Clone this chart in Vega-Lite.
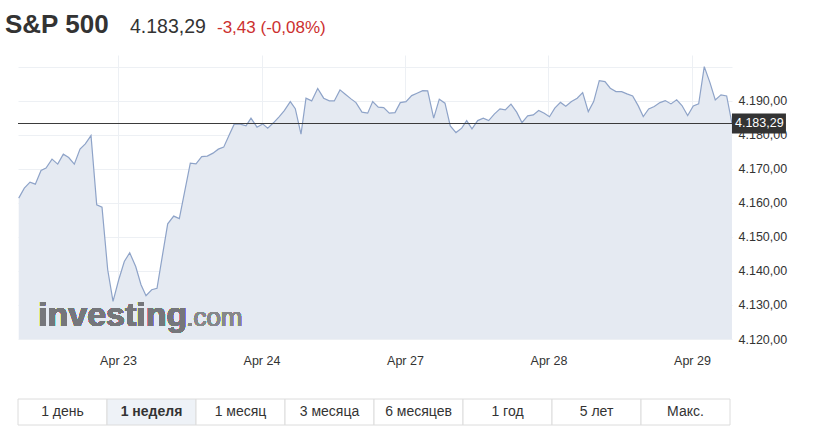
{
  "$schema": "https://vega.github.io/schema/vega-lite/v6.json",
  "padding": {"left": 5, "top": 11, "right": 5, "bottom": 4},
  "background": "#ffffff",
  "config": {
    "font": "Liberation Sans",
    "view": {"stroke": null},
    "locale": {"number": {"decimal": ",", "thousands": ".", "grouping": [3], "currency": ["", ""]}}
  },
  "datasets": {
    "header": [
      {"part": "name", "label": "S&P 500"},
      {"part": "price", "label": "4.183,29"},
      {"part": "change", "label": "-3,43 (-0,08%)"}
    ],
    "buttons": [
      {"label": "1 день"}, {"label": "1 неделя"}, {"label": "1 месяц"}, {"label": "3 месяца"},
      {"label": "6 месяцев"}, {"label": "1 год"}, {"label": "5 лет"}, {"label": "Макс."}
    ],
    "spx": [
      {"t":0.3080,"v":4161.37},{"t":0.3470,"v":4164.31},{"t":0.3868,"v":4166.07},{"t":0.4237,"v":4165.48},
      {"t":0.4634,"v":4169.47},{"t":0.4983,"v":4170.18},{"t":0.5401,"v":4172.82},{"t":0.5798,"v":4171.35},
      {"t":0.6188,"v":4174.28},{"t":0.6564,"v":4173.29},{"t":0.6955,"v":4171.35},{"t":0.7352,"v":4175.75},
      {"t":0.7721,"v":4177.31},{"t":0.8118,"v":4179.74},{"t":0.8516,"v":4159.41},{"t":0.8885,"v":4158.73},
      {"t":0.9282,"v":4140.33},{"t":0.9652,"v":4131.03},{"t":1.0049,"v":4137.40},{"t":1.0439,"v":4142.77},
      {"t":1.0815,"v":4145.32},{"t":1.1233,"v":4141.30},{"t":1.1603,"v":4135.93},{"t":1.1951,"v":4132.71},
      {"t":1.2348,"v":4134.47},{"t":1.2718,"v":4134.91},{"t":1.3094,"v":4144.47},{"t":1.3463,"v":4153.83},
      {"t":1.3882,"v":4156.09},{"t":1.4272,"v":4155.36},{"t":1.4655,"v":4163.51},{"t":1.5038,"v":4171.64},
      {"t":1.5436,"v":4171.44},{"t":1.5833,"v":4173.58},{"t":1.6223,"v":4173.70},{"t":1.6620,"v":4174.58},
      {"t":1.6990,"v":4175.75},{"t":1.7366,"v":4176.34},{"t":1.7756,"v":4179.95},{"t":1.8105,"v":4183.17},
      {"t":1.8523,"v":4183.09},{"t":1.8920,"v":4182.59},{"t":1.9268,"v":4184.85},{"t":1.9686,"v":4182.21},
      {"t":2.0084,"v":4183.17},{"t":2.0432,"v":4181.91},{"t":2.0850,"v":4183.56},{"t":2.1240,"v":4185.32},
      {"t":2.1589,"v":4187.08},{"t":2.2007,"v":4189.72},{"t":2.2355,"v":4187.64},{"t":2.2753,"v":4180.15},
      {"t":2.3101,"v":4190.72},{"t":2.3498,"v":4189.92},{"t":2.3916,"v":4193.59},{"t":2.4334,"v":4190.72},
      {"t":2.4725,"v":4189.92},{"t":2.5073,"v":4189.92},{"t":2.5470,"v":4193.15},{"t":2.5840,"v":4191.89},
      {"t":2.6237,"v":4190.51},{"t":2.6585,"v":4189.42},{"t":2.7003,"v":4186.61},{"t":2.7401,"v":4186.31},
      {"t":2.7749,"v":4189.72},{"t":2.8139,"v":4188.07},{"t":2.8516,"v":4187.96},{"t":2.8906,"v":4186.31},
      {"t":2.9303,"v":4186.49},{"t":2.9672,"v":4189.42},{"t":3.0070,"v":4189.72},{"t":3.0467,"v":4191.48},
      {"t":3.0836,"v":4192.18},{"t":3.1233,"v":4192.95},{"t":3.1582,"v":4192.86},{"t":3.2000,"v":4184.85},
      {"t":3.2390,"v":4190.42},{"t":3.2787,"v":4189.25},{"t":3.3157,"v":4182.59},{"t":3.3554,"v":4180.62},
      {"t":3.3951,"v":4181.91},{"t":3.4300,"v":4184.14},{"t":3.4669,"v":4181.71},{"t":3.5066,"v":4184.14},
      {"t":3.5456,"v":4184.85},{"t":3.5833,"v":4184.14},{"t":3.6223,"v":4186.02},{"t":3.6620,"v":4187.58},
      {"t":3.6990,"v":4187.28},{"t":3.7387,"v":4188.96},{"t":3.7784,"v":4186.61},{"t":3.8153,"v":4183.56},
      {"t":3.8551,"v":4185.52},{"t":3.8941,"v":4185.82},{"t":3.9317,"v":4187.08},{"t":3.9707,"v":4186.31},
      {"t":4.0070,"v":4185.26},{"t":4.0439,"v":4187.78},{"t":4.0836,"v":4189.48},{"t":4.1206,"v":4188.37},
      {"t":4.1603,"v":4189.72},{"t":4.2000,"v":4190.72},{"t":4.2383,"v":4192.33},{"t":4.2774,"v":4186.78},
      {"t":4.3150,"v":4189.72},{"t":4.3540,"v":4195.88},{"t":4.3937,"v":4195.59},{"t":4.4307,"v":4193.65},
      {"t":4.4704,"v":4192.65},{"t":4.5101,"v":4192.65},{"t":4.5470,"v":4191.98},{"t":4.5868,"v":4191.39},
      {"t":4.6258,"v":4188.46},{"t":4.6606,"v":4185.32},{"t":4.6983,"v":4187.58},{"t":4.7373,"v":4188.25},
      {"t":4.7770,"v":4189.42},{"t":4.8139,"v":4190.01},{"t":4.8537,"v":4189.04},{"t":4.8934,"v":4190.22},
      {"t":4.9303,"v":4188.55},{"t":4.9700,"v":4185.61},{"t":5.0091,"v":4188.46},{"t":5.0467,"v":4189.04},
      {"t":5.0857,"v":4199.99},{"t":5.1254,"v":4195.29},{"t":5.1624,"v":4190.22},{"t":5.2021,"v":4191.68},
      {"t":5.2418,"v":4191.39},{"t":5.2787,"v":4183.29}
    ]
  },
  "spacing": 0,
  "vconcat": [
    {
      "spacing": 0,
      "hconcat": [
        {
          "width": 125, "height": 44,
          "data": {"name": "header"},
          "transform": [{"filter": "datum.part === 'name'"}],
          "mark": {"type": "text", "align": "left", "baseline": "alphabetic", "fontSize": 26, "fontWeight": "bold", "color": "#333333"},
          "encoding": {
            "x": {"field": "part", "type": "nominal", "scale": {"type": "point", "align": 0, "padding": 0}, "axis": null},
            "text": {"field": "label"}
          }
        },
        {
          "width": 87, "height": 44,
          "data": {"name": "header"},
          "transform": [{"filter": "datum.part === 'price'"}],
          "mark": {"type": "text", "align": "left", "baseline": "alphabetic", "fontSize": 19.5, "color": "#333333"},
          "encoding": {
            "x": {"field": "part", "type": "nominal", "scale": {"type": "point", "align": 0, "padding": 0}, "axis": null},
            "text": {"field": "label"}
          }
        },
        {
          "width": 130, "height": 44,
          "data": {"name": "header"},
          "transform": [{"filter": "datum.part === 'change'"}],
          "mark": {"type": "text", "align": "left", "baseline": "alphabetic", "fontSize": 17, "color": "#cc2f2f"},
          "encoding": {
            "x": {"field": "part", "type": "nominal", "scale": {"type": "point", "align": 0, "padding": 0}, "axis": null},
            "text": {"field": "label"}
          }
        }
      ]
    },
    {
      "spacing": 0,
      "hconcat": [
        {
          "width": 12, "height": 1,
          "data": {"values": []},
          "mark": "text",
          "encoding": {}
        },
        {
          "spacing": 31,
          "vconcat": [
            {
              "width": 714, "height": 284,
              "data": {"name": "spx"},
              "encoding": {
                "x": {"field": "t", "type": "quantitative",
                  "scale": {"domain": [0.303, 5.279], "nice": false, "zero": false},
                  "axis": {"values": [1, 2, 3, 4, 5], "labelExpr": "['', 'Apr 23', 'Apr 24', 'Apr 27', 'Apr 28', 'Apr 29'][datum.value]",
                    "title": null, "domain": false, "ticks": false, "tickSize": 0, "labelPadding": 15,
                    "labelFontSize": 12.5, "labelColor": "#333333", "labelFont": "Liberation Sans",
                    "grid": true, "gridColor": "#edf0f4", "labelFlush": false}},
                "y": {"field": "v", "type": "quantitative",
                  "scale": {"domain": [4120, 4203.4], "nice": false, "zero": false},
                  "axis": {"orient": "right", "values": [4120, 4130, 4140, 4150, 4160, 4170, 4180, 4190, 4200],
                    "format": ",.2f", "labelExpr": "datum.value > 4195 ? '' : datum.label",
                    "title": null, "domain": false, "ticks": false, "tickSize": 0, "labelPadding": 6,
                    "labelFontSize": 12.5, "labelColor": "#333333", "labelFont": "Liberation Sans",
                    "grid": true, "gridColor": "#edf0f4", "labelFlush": false}}
              },
              "layer": [
                {
                  "mark": {"type": "area", "color": "#e5eaf2", "opacity": 1, "clip": true,
                    "line": {"color": "#8ea3c8", "strokeWidth": 1.2}}
                },
                {
                  "mark": {"type": "text", "text": "investing", "align": "left", "baseline": "alphabetic",
                    "fontSize": 34, "fontWeight": "bold", "color": "#75767b"},
                  "encoding": {"x": {"datum": 0.4425}, "y": {"datum": 4123.9}}
                },
                {
                  "mark": {"type": "text", "text": ".com", "align": "left", "baseline": "alphabetic",
                    "fontSize": 26, "color": "#86878b"},
                  "encoding": {"x": {"datum": 1.475}, "y": {"datum": 4123.9}}
                },
                {
                  "transform": [
                    {"joinaggregate": [{"op": "max", "field": "t", "as": "tmax"}]},
                    {"filter": "datum.t === datum.tmax"}
                  ],
                  "layer": [
                    {
                      "mark": {"type": "rule", "color": "#3b3b3b", "strokeWidth": 1.2},
                      "encoding": {"x": null, "y": {"field": "v", "type": "quantitative"}}
                    },
                    {
                      "mark": {"type": "point", "shape": "M0,-1H5.4V1H0Z", "size": 400, "filled": true,
                        "color": "#333333", "opacity": 1, "strokeWidth": 0},
                      "encoding": {"x": {"field": "t", "type": "quantitative"}, "y": {"field": "v", "type": "quantitative"}}
                    },
                    {
                      "mark": {"type": "text", "align": "left", "baseline": "middle", "dx": 3,
                        "fontSize": 12.5, "color": "#ffffff"},
                      "encoding": {"x": {"field": "t", "type": "quantitative"}, "y": {"field": "v", "type": "quantitative"},
                        "text": {"field": "v", "type": "quantitative", "format": ",.2f"}}
                    }
                  ]
                }
              ]
            },
            {
              "width": 712, "height": 26,
              "data": {"name": "buttons"},
              "encoding": {
                "x": {"field": "label", "type": "nominal", "sort": null,
                  "scale": {"paddingInner": 0, "paddingOuter": 0}, "axis": null}
              },
              "layer": [
                {
                  "mark": {"type": "rect", "stroke": "#dcdcdc", "strokeWidth": 1},
                  "encoding": {
                    "fill": {"condition": {"test": "datum.label === '1 неделя'", "value": "#eef2f7"}, "value": "#ffffff"}
                  }
                },
                {
                  "transform": [{"filter": "datum.label !== '1 неделя'"}],
                  "mark": {"type": "text", "baseline": "middle", "fontSize": 14, "color": "#333333"},
                  "encoding": {"text": {"field": "label"}}
                },
                {
                  "transform": [{"filter": "datum.label === '1 неделя'"}],
                  "mark": {"type": "text", "baseline": "middle", "fontSize": 14, "fontWeight": "bold", "color": "#333333"},
                  "encoding": {"text": {"field": "label"}}
                }
              ]
            }
          ]
        }
      ]
    }
  ]
}
